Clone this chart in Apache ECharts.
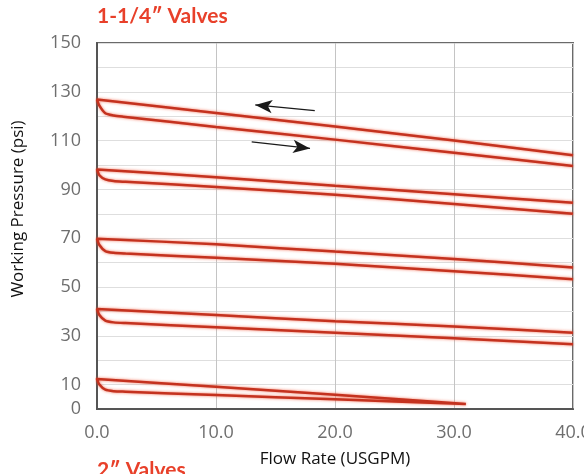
<!DOCTYPE html>
<html><head><meta charset="utf-8">
<script src="https://cdn.jsdelivr.net/npm/echarts@6/dist/echarts.min.js"></script>
<style>html,body{margin:0;padding:0;background:#fff}#c{width:584px;height:474px}</style>
</head><body><div id="c"></div>
<script>
// Flow rate tick labels (USGPM)
const xTicks = [0, 10, 20, 30, 40];
// Pressure tick labels shown (psi)
const yTickLabels = [0, 10, 30, 50, 70, 90, 110, 130, 150];

// Each valve setting: upper path (x from 40 down to 0), knee, lower path (x up to 40)
const set1Upper = [[40,104],[30,110],[20,115.8],[10,121.3],[0,126.8]];
const set1Knee  = [[0.2,124.3],[0.7,121.2],[1.4,120.3]];
const set1Lower = [[2.2,119.8],[10,115.6],[20,110.4],[30,105],[40,99.6]];

const set2Upper = [[40,84.5],[30,88],[20,91.5],[10,95],[0,98.2]];
const set2Knee  = [[0.2,95.8],[0.7,94.1],[1.4,93.4]];
const set2Lower = [[2.4,93.1],[10,91],[20,87.8],[30,84],[40,80]];

const set3Upper = [[40,58],[30,61.5],[20,64.5],[10,67.5],[0,69.8]];
const set3Knee  = [[0.2,67.2],[0.7,64.7],[1.4,64.0]];
const set3Lower = [[2.4,63.7],[10,62],[20,59.5],[30,56.5],[40,53.2]];

const set4Upper = [[40,31.3],[30,33.8],[20,36],[10,38.5],[0,41]];
const set4Knee  = [[0.2,38.5],[0.7,36.2],[1.4,35.5]];
const set4Lower = [[2.4,35.2],[10,33.5],[20,31.3],[30,29],[40,26.5]];

const set5Upper = [[31,2],[20,5.8],[10,9.1],[0,12.3]];
const set5Knee  = [[0.2,10.0],[0.7,7.9],[1.4,7.3]];
const set5Lower = [[2.4,7.1],[10,5.7],[20,4.0],[31,2]];

// Direction arrows [tail, head]
const arrowLeft  = [[18.3,122.3],[13.3,124.6]];
const arrowRight = [[13.0,109.5],[17.9,106.8]];

const loops = [
  set1Upper.concat(set1Knee, set1Lower),
  set2Upper.concat(set2Knee, set2Lower),
  set3Upper.concat(set3Knee, set3Lower),
  set4Upper.concat(set4Knee, set4Lower),
  set5Upper.concat(set5Knee, set5Lower)
];

const chart = echarts.init(document.getElementById('c'), null, {renderer:'canvas'});
const lineSeries = loops.map(d => ({
  type:'line', data:d, showSymbol:false, smooth:0.25,
  lineStyle:{color:'#c4321f', width:2.5, shadowColor:'rgba(240,80,50,0.8)', shadowBlur:3},
  silent:true, z:3
}));
function arrowSeries(a){
  return {
    type:'line', data:[], silent:true,
    markLine:{silent:true, symbol:['none','arrow'], symbolSize:[10,17],
      label:{show:false},
      lineStyle:{color:'#1a1a1a', width:1.3, type:'solid'},
      data:[[{coord:a[0]},{coord:a[1]}]]}
  };
}
chart.setOption({
  animation:false,
  grid:{left:97, top:43, right:11, bottom:65, show:true, borderColor:'#6a6a6a', borderWidth:2, containLabel:false, outerBoundsMode:'none'},
  graphic:[
    {type:'text', left:97, top:6, style:{text:'1-1/4\u2033 Valves', fill:'#e8402a', font:'bold 21px Lato, "Open Sans", sans-serif'}},
    {type:'text', left:97, top:460, style:{text:'2\u2033 Valves', fill:'#e8402a', font:'bold 21px Lato, "Open Sans", sans-serif'}},
    {type:'text', x:18, y:209, rotation:Math.PI/2, style:{text:'Working Pressure (psi)', fill:'#111', font:'17px "Open Sans", sans-serif', align:'center', verticalAlign:'middle'}}
  ],
  xAxis:{type:'value', min:xTicks[0], max:xTicks[xTicks.length-1], interval:10,
    axisLine:{show:true, lineStyle:{color:'#555', width:2}},
    axisTick:{show:false},
    axisLabel:{formatter:v=>v.toFixed(1), color:'#6e6e6e', fontSize:18, fontFamily:'"Open Sans", sans-serif', margin:15},
    splitLine:{show:true, lineStyle:{color:'#c4c4c4', width:1}},
    name:'Flow Rate (USGPM)', nameLocation:'middle', nameGap:42,
    nameTextStyle:{color:'#111', fontSize:17, fontFamily:'"Open Sans", sans-serif'}
  },
  yAxis:{type:'value', min:0, max:150, interval:10,
    axisLine:{show:true, lineStyle:{color:'#555', width:2}},
    axisTick:{show:false},
    axisLabel:{formatter:v=> yTickLabels.indexOf(v)>=0 ? String(v) : '', color:'#6e6e6e', fontSize:18, fontFamily:'"Open Sans", sans-serif', margin:16},
    splitLine:{show:true, lineStyle:{color:'#dedede', width:1.2}}
  },
  series: lineSeries.concat([arrowSeries(arrowLeft), arrowSeries(arrowRight)])
});
</script></body></html>
